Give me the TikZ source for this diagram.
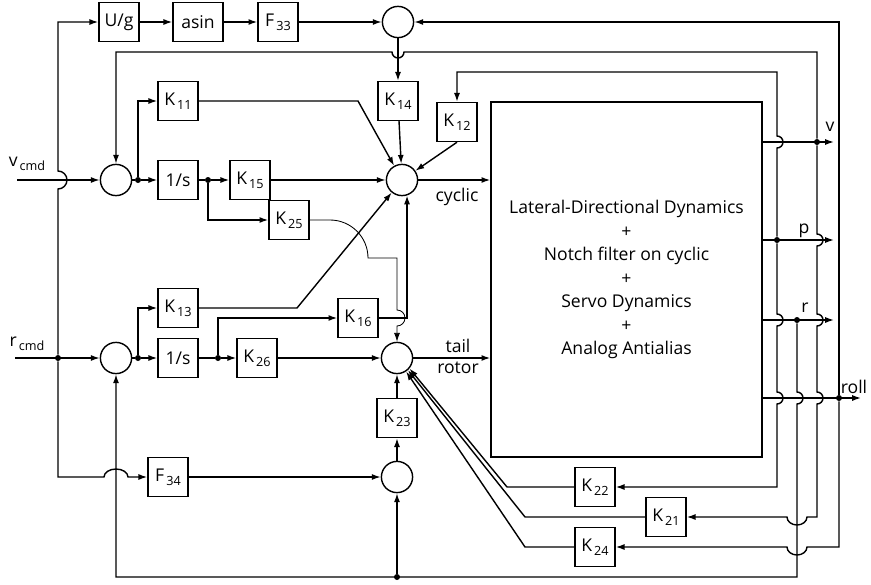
\documentclass[tikz,border=0pt]{standalone}
\usepackage{fontspec}
\setmainfont{Open Sans}
\usetikzlibrary{arrows.meta,calc}
\newcommand{\lo}[1]{\raisebox{-0.45ex}{\fontsize{9}{10}\selectfont\,#1}}
\tikzset{
  wire/.style={line width=1pt},
  sig/.style={line width=1pt,-{Latex[length=2.2mm,width=1.5mm]}},
  box/.style={draw,line width=1pt,minimum width=10mm,minimum height=9.75mm,
              inner sep=0pt,font=\fontsize{12.5}{14}\selectfont},
  sumc/.style={circle,draw,line width=1pt,minimum size=7.8mm,inner sep=0pt},
  dot/.style={circle,fill,inner sep=0pt,minimum size=1.5mm},
  lbl/.style={inner sep=0pt,font=\fontsize{12.5}{14}\selectfont},
}

\begin{document}
\begin{tikzpicture}[x=0.25mm,y=-0.25mm]
  \useasboundingbox (0,0) rectangle (871,584);
  % blocks
  \node[box](ug) at (119,22){U/g};
  \node[box,minimum width=12.5mm](asin) at (198,22){asin};
  \node[box](f33) at (278,22){F\lo{33}};
  \node[sumc](stop) at (398,22){};
  \node[box](k14) at (398,101){K\lo{14}};
  \node[box](k12) at (457,122){K\lo{12}};
  \node[box](k11) at (178,101){K\lo{11}};
  \node[sumc](sv) at (116,180){};
  \node[box](iv) at (178,180){1/s};
  \node[box](k15) at (250,180){K\lo{15}};
  \node[box](k25) at (289,220){K\lo{25}};
  \node[sumc](cyc) at (402,180){};
  \node[box](k13) at (178,308){K\lo{13}};
  \node[sumc](sr) at (116,358){};
  \node[box](ir) at (178,358){1/s};
  \node[box](k26) at (257,358){K\lo{26}};
  \node[box](k16) at (358,318){K\lo{16}};
  \node[sumc](tail) at (397,358){};
  \node[box](k23) at (397,418){K\lo{23}};
  \node[sumc](sb) at (397,477){};
  \node[box](f34) at (168,477){F\lo{34}};
  \node[box](k22) at (595,487){K\lo{22}};
  \node[box](k21) at (666,517){K\lo{21}};
  \node[box](k24) at (595,547){K\lo{24}};
  \node[draw,line width=1pt,minimum width=67.75mm,minimum height=88.75mm,
        align=center,font=\fontsize{12.5}{16.7}\selectfont](plant) at (626.5,279.5)
        {Lateral-Directional Dynamics\\+\\Notch filter on cyclic\\+\\Servo Dynamics\\+\\Analog Antialias};

  % labels
  \node[lbl](lv) at (27,164){v\lo{cmd}};
  \node[lbl](lr) at (27,344){r\lo{cmd}};
  \node[lbl](lcyc) at (457,197){cyclic};
  \node[lbl](ltail) at (458,346){tail};
  \node[lbl](lrot) at (458,368){rotor};
  \node[lbl](lvo) at (830,127){v};
  \node[lbl](lpo) at (804,231){p};
  \node[lbl](lro) at (805,308){r};
  \node[lbl](lroll) at (854,387){roll};

  % junctions and free ends
  \coordinate (vin) at (17,180);
  \coordinate (rin) at (15,358);
  \coordinate (vout) at (834,142);
  \coordinate (pout) at (834,240);
  \coordinate (rout) at (834,320);
  \coordinate (rollout) at (861,398);
  \node[dot](rj) at (58,358){};
  \node[dot](jv) at (138,180){};
  \node[dot](jv2) at (208,180){};
  \node[dot](jr) at (138,358){};
  \node[dot](jr2) at (218,358){};
  \node[dot](db) at (397,577){};
  \node[dot](dv) at (817,142){};
  \node[dot](dp) at (777,240){};
  \node[dot](dr) at (797,320){};
  \node[dot](droll) at (839,398){};

  % commands
  \draw[sig] (vin) -- (sv);
  \draw[sig] (rin) -- (sr);
  \draw[sig] (rj) -- (58,189) arc[start angle=90,end angle=-90,radius=9] |- (ug);
  \draw[sig] (rj) -- (58,477) -- (104,477)
    arc[start angle=180,end angle=360,x radius=12,y radius=8] -- (f34);
  \draw[sig] (ug) -- (asin);
  \draw[sig] (asin) -- (f33);
  \draw[sig] (f33) -- (stop);
  \draw[sig] (stop) -- (k14);

  % cyclic channel
  \draw[wire] (sv) -- (jv);
  \draw[sig] (jv) -- (iv);
  \draw[sig] (jv) |- (k11);
  \draw[wire] (iv) -- (jv2);
  \draw[sig] (jv2) -- (k15);
  \draw[sig] (jv2) |- (k25);
  \draw[sig] (k11) -- (358,101) -- (cyc);
  \draw[sig] (k15) -- (cyc);
  \draw[sig] (k14) -- (cyc);
  \draw[sig] (k12.south) -- (cyc);
  \draw[sig] (cyc) -- (plant.west |- cyc);

  % tail rotor channel
  \draw[wire] (sr) -- (jr);
  \draw[sig] (jr) -- (ir);
  \draw[sig] (jr) |- (k13);
  \draw[wire] (ir) -- (jr2);
  \draw[sig] (jr2) -- (k26);
  \draw[sig] (jr2) |- (k16);
  \draw[sig] (k13) -- (297,308) -- (cyc);
  \draw[sig] (k16) -| (cyc.-72);
  \draw[sig,line width=.6pt] (k25) -- (330,220) arc[start angle=-90,end angle=0,radius=38]
    -- (397,258) -- (397,310) arc[start angle=-90,end angle=90,radius=8] -- (tail);
  \draw[sig] (k26) -- (tail);
  \draw[sig] (f34) -- (sb);
  \draw[sig] (sb) -- (k23);
  \draw[sig] (k23) -- (tail);
  \draw[sig] (db) -- (sb);
  \draw[sig] (tail) -- (plant.west |- tail);

  % outputs
  \draw[sig] (plant.east |- vout) -- (vout);
  \draw[sig] (plant.east |- pout) -- (pout);
  \draw[sig] (plant.east |- rout) -- (rout);
  \draw[sig] (plant.east |- rollout) -- (rollout);

  % feedback
  \draw[sig] (dv) -- (817,52) -- (404,52) arc[start angle=0,end angle=180,radius=6] -| (sv);
  \draw[sig] (dv) -- (817,234) arc[start angle=-90,end angle=90,radius=6]
    -- (817,314) arc[start angle=-90,end angle=90,radius=6]
    -- (817,392) arc[start angle=-90,end angle=90,radius=6]
    -- (817,517) -- (807,517) arc[start angle=0,end angle=180,x radius=10,y radius=8] -- (k21);
  \draw[sig] (dp) -- (777,148) arc[start angle=90,end angle=-90,radius=6] -- (777,72) -| (k12);
  \draw[sig] (dp) -- (777,314) arc[start angle=-90,end angle=90,radius=6]
    -- (777,392) arc[start angle=-90,end angle=90,radius=6] -- (777,487) -- (k22);
  \draw[sig] (dr) -- (797,392) arc[start angle=-90,end angle=90,radius=6] -- (797,577) -| (sr);
  \draw[sig] (droll) |- (stop);
  \draw[sig] (droll) -- (839,547) -- (807,547)
    arc[start angle=0,end angle=180,x radius=10,y radius=8] -- (k24);
  \draw[sig] (k22) -- (507,487) -- (tail.-40);
  \draw[sig] (k21) -- (525,517) -- (tail.-48);
  \draw[sig] (k24) -- (525,547) -- (tail.-56);
\end{tikzpicture}
\end{document}
